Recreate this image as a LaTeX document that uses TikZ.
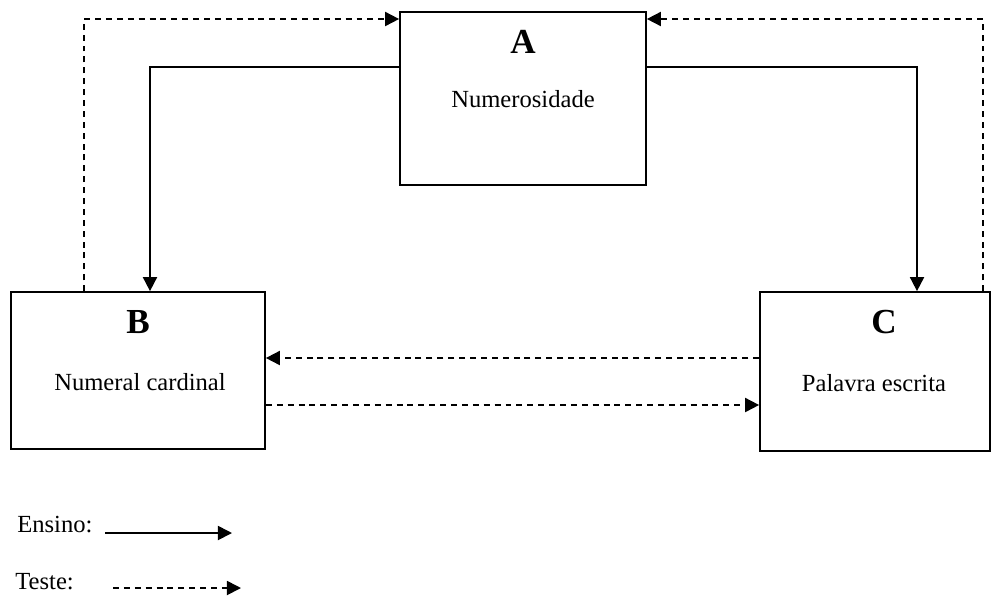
\documentclass[tikz,border=0pt]{standalone}
\usepackage{fontspec}
\setmainfont{Liberation Serif}
\usetikzlibrary{arrows.meta}
\tikzset{
  box/.style={draw, line width=1pt, rectangle, inner sep=0pt},
  title/.style={font=\fontsize{20}{22}\selectfont\bfseries, inner sep=0pt, anchor=base},
  label/.style={font=\fontsize{14}{16}\selectfont, inner sep=0pt},
  teach/.style={line width=1pt, -{Triangle[length=8pt,width=8pt]}},
  testarrow/.style={line width=1pt, dash pattern=on 3.4pt off 2.8pt, -{Triangle[length=8pt,width=8pt]}}
}
\begin{document}
\begin{tikzpicture}[x=0.02cm,y=-0.02cm]
\useasboundingbox (0,0) rectangle (1000,596);
\node[box, minimum width=4.92cm, minimum height=3.46cm] (A) at (523,98.5) {};
\node[box, minimum width=5.08cm, minimum height=3.14cm] (B) at (138,370.5) {};
\node[box, minimum width=4.6cm, minimum height=3.18cm] (C) at (875,371.5) {};
\node[title] (At) at (523,53) {A};
\node[label] (An) at (523,99) {Numerosidade};
\node[title] (Bt) at (138,333) {B};
\node[label] (Bn) at (140,382) {Numeral cardinal};
\node[title] (Ct) at (884,333) {C};
\node[label] (Cn) at (874,383) {Palavra escrita};
\draw[teach] (A.west |- 0,67) -| (B.north -| 150,0);
\draw[teach] (A.east |- 0,67) -| (C.north -| 917,0);
\draw[testarrow] (B.north -| 84,0) |- (A.west |- 0,19);
\draw[testarrow] (C.north -| 983,0) |- (A.east |- 0,19);
\draw[testarrow] (C.west |- 0,358) -- (B.east |- 0,358);
\draw[testarrow] (B.east |- 0,405) -- (C.west |- 0,405);
\node[label, anchor=base west] (Le) at (17,532) {Ensino:};
\node[label, anchor=base west] (Lt) at (15,589) {Teste:};
\coordinate (e1) at (105,533);
\coordinate (e2) at (232,533);
\coordinate (t1) at (113,588);
\coordinate (t2) at (241,588);
\draw[teach] (e1) -- (e2);
\draw[testarrow] (t1) -- (t2);
\end{tikzpicture}
\end{document}
